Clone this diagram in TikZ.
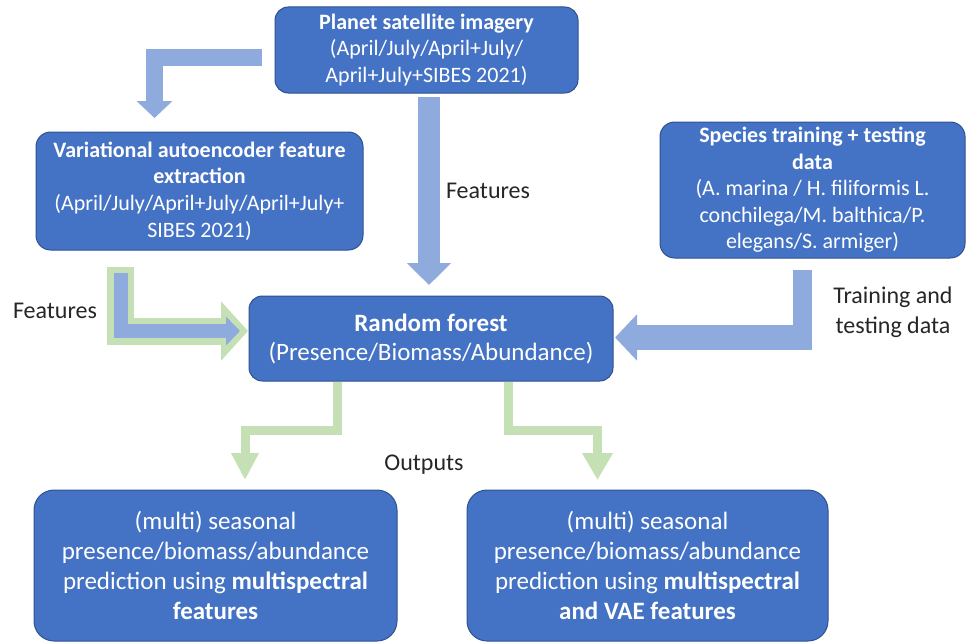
\documentclass[tikz,border=0pt]{standalone}
\usepackage{fontspec}
\setmainfont{Carlito}
\usetikzlibrary{arrows.meta}
\definecolor{boxblue}{HTML}{4472C4}
\definecolor{boxedge}{HTML}{2F528F}
\definecolor{arrowblue}{HTML}{8FAADC}
\definecolor{arrowgreen}{HTML}{C5E0B4}
\begin{document}
\begin{tikzpicture}[x=0.75pt,y=-0.75pt,
  box/.style={draw=boxedge, line width=0.75pt, fill=boxblue, text=white,
    align=center, inner sep=0pt, rounded corners=10pt},
  smallfont/.style={font=\fontsize{16.5pt}{19.9pt}\selectfont},
  bigfont/.style={font=\fontsize{18.75pt}{22.4pt}\selectfont},
  labelfont/.style={font=\fontsize{18pt}{22.5pt}\selectfont, text=black!85, align=center, inner sep=0pt},
  blockarrow/.style={line cap=butt, line join=miter},
]
\path[use as bounding box] (0,0) rectangle (966,642);

% boxes
\node[box, smallfont, minimum width=227.25pt, minimum height=64.5pt] (planet) at (426.5,50)
  {\textbf{Planet satellite imagery}\\(April/July/April+July/\\April+July+SIBES 2021)};
\node[box, smallfont, minimum width=245.25pt, minimum height=88.5pt, rounded corners=11pt] (vae) at (199.5,191)
  {\textbf{Variational autoencoder feature}\\\textbf{extraction}\\(April/July/April+July/April+July+\\SIBES 2021)};
\node[box, smallfont, minimum width=228.75pt, minimum height=102pt, rounded corners=11pt] (species) at (812.5,190)
  {\textbf{Species training + testing}\\\textbf{data}\\(A. marina / H. filiformis L.\\conchilega/M. balthica/P.\\elegans/S. armiger)};
\node[box, bigfont, minimum width=273pt, minimum height=63.75pt, font=\fontsize{18.75pt}{21.75pt}\selectfont] (rf) at (431,338.5)
  {\textbf{Random forest}\\(Presence/Biomass/Abundance)};
\node[box, bigfont, minimum width=272.25pt, minimum height=113.25pt, rounded corners=15pt] (outa) at (215.5,565.5)
  {(multi) seasonal\\presence/biomass/abundance\\prediction using \textbf{multispectral}\\\textbf{features}};
\node[box, bigfont, minimum width=270.75pt, minimum height=113.25pt, rounded corners=15pt] (outb) at (647.5,565.5)
  {(multi) seasonal\\presence/biomass/abundance\\prediction using \textbf{multispectral}\\\textbf{and VAE features}};

% labels
\node[labelfont] (featl) at (55,311) {Features};
\node[labelfont] (featc) at (488,191) {Features};
\node[labelfont] (outl) at (424,465) {Outputs};
\node[labelfont] (train) at (893,312) {Training and\\testing data};

% planet -> vae
\coordinate (pv0) at (262,57.5);
\coordinate (pv1) at (154.5,118);
\draw[blockarrow, draw=arrowblue, line width=12.75pt,
  -{Triangle[length=12.75pt,width=26.25pt]}] (pv0) -| (pv1);

% planet -> random forest
\coordinate (pr0) at (429,97);
\coordinate (pr1) at (429,285);
\draw[blockarrow, draw=arrowblue, line width=16.5pt,
  -{Triangle[length=16.5pt,width=32.25pt]}] (pr0) -- (pr1);

% vae -> random forest (green rim, blue core)
\coordinate (vr0) at (120.5,267);
\coordinate (vr1) at (248,331);
\coordinate (vb0) at (120.5,273);
\coordinate (vb1) at (240,331);
\draw[blockarrow, draw=arrowgreen, line width=20.25pt,
  -{Triangle[length=20.25pt,width=43.5pt]}] (vr0) |- (vr1);
\draw[blockarrow, draw=arrowblue, line width=10.5pt,
  -{Triangle[length=10.5pt,width=21pt]}] (vb0) |- (vb1);

% species -> random forest
\coordinate (sr0) at (802.5,270);
\coordinate (sr1) at (802.5,350);
\coordinate (sr2) at (812,337.5);
\coordinate (sr3) at (615,337.5);
\draw[blockarrow, draw=arrowblue, line width=14.25pt] (sr0) -- (sr1);
\draw[blockarrow, draw=arrowblue, line width=18.75pt,
  -{Triangle[length=16.5pt,width=33.75pt]}] (sr2) -- (sr3);

% random forest -> outputs
\coordinate (ra0) at (rf.south -| 337.5,0);
\coordinate (ra1) at (337.5,430);
\coordinate (ra2) at (245,430);
\coordinate (ra3) at (245,480);
\draw[blockarrow, draw=arrowgreen, line width=6.75pt,
  -{Triangle[length=20.25pt,width=19.5pt]}] (ra0) -- (ra1) -- (ra2) -- (ra3);
\coordinate (rb0) at (rf.south -| 508,0);
\coordinate (rb1) at (508,430);
\coordinate (rb2) at (597.5,430);
\coordinate (rb3) at (597.5,480);
\draw[blockarrow, draw=arrowgreen, line width=6.75pt,
  -{Triangle[length=20.25pt,width=21.75pt]}] (rb0) -- (rb1) -- (rb2) -- (rb3);
\end{tikzpicture}
\end{document}
